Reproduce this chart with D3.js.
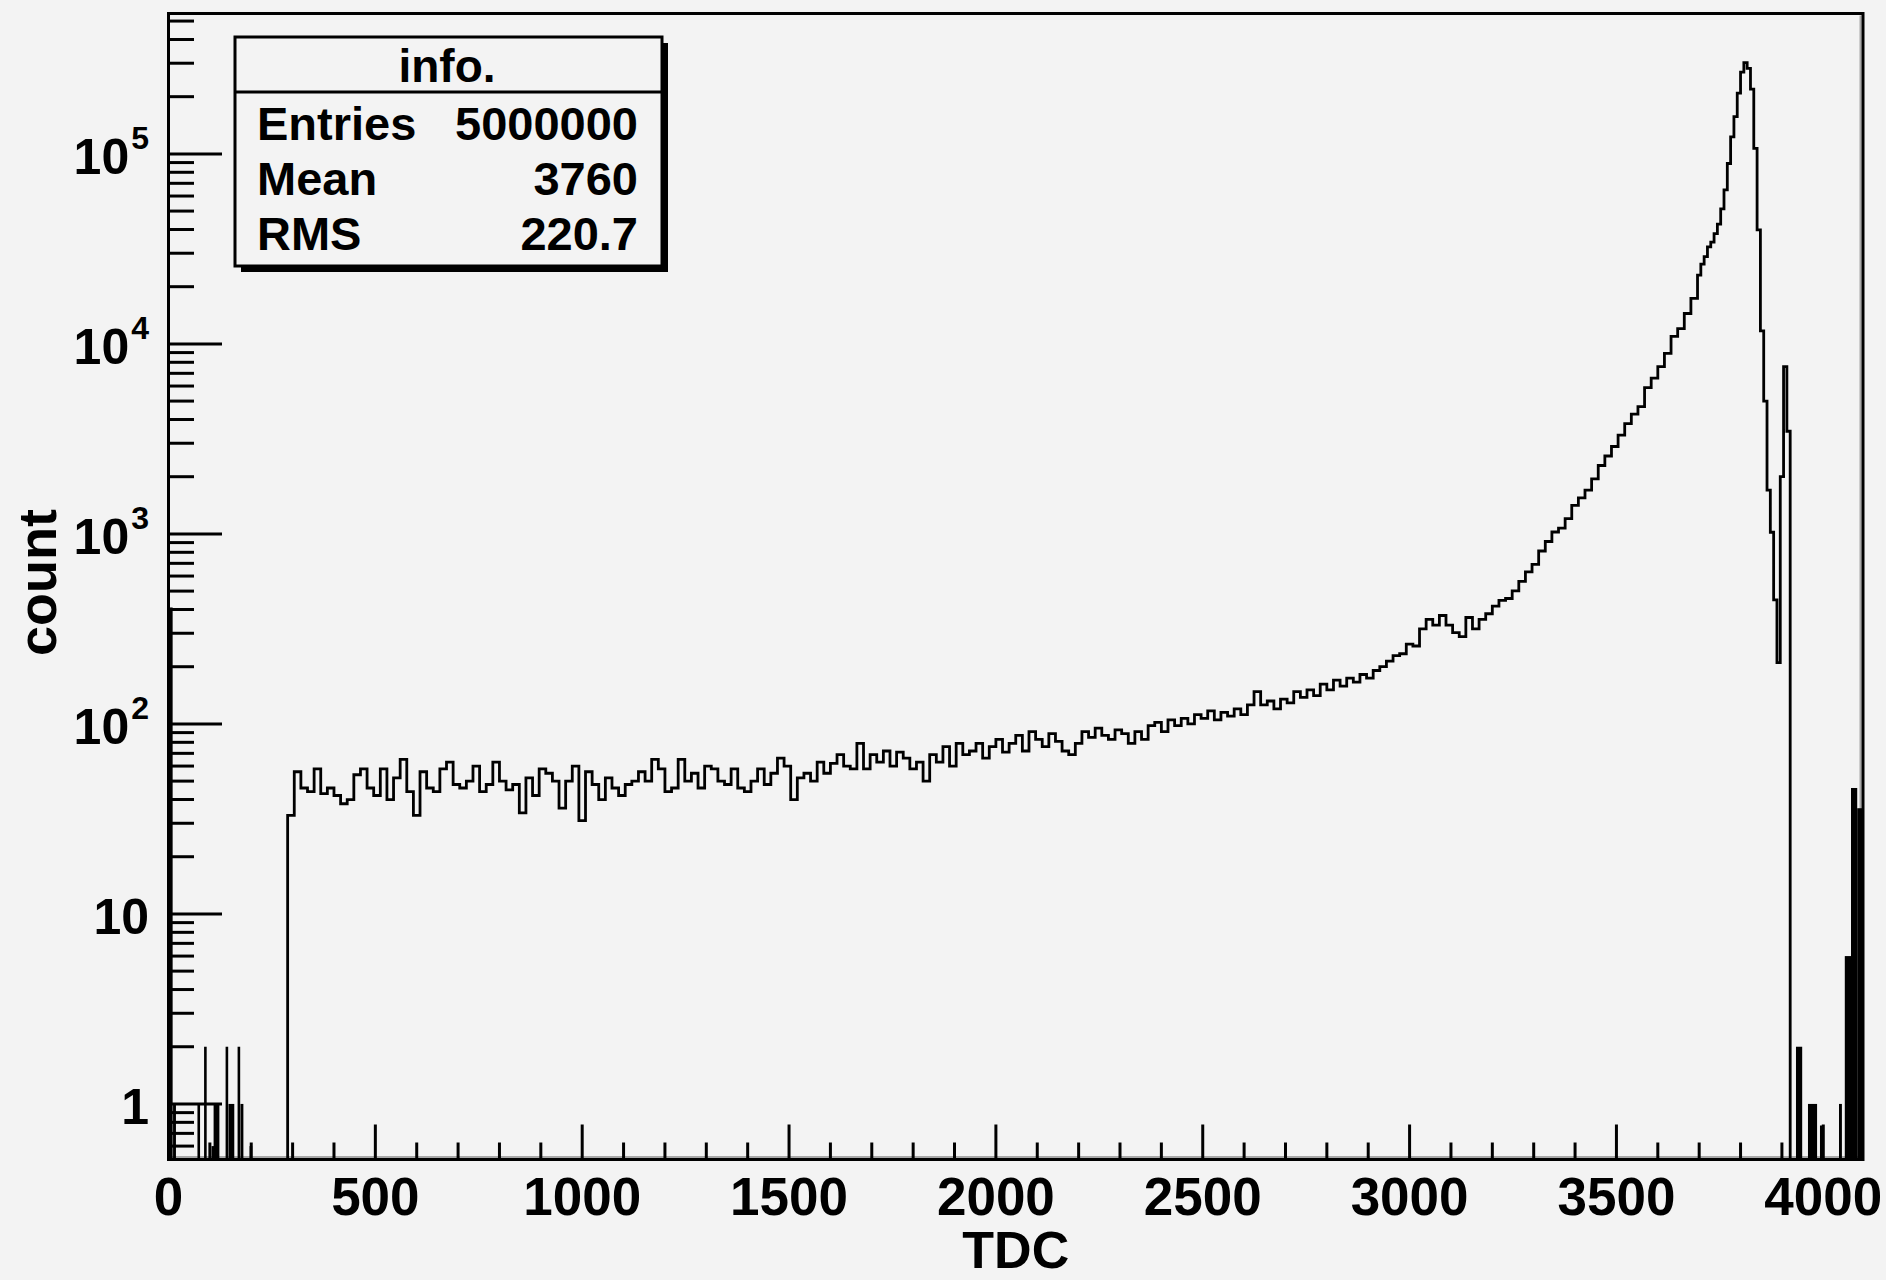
<!DOCTYPE html>
<html>
<head>
<meta charset="utf-8">
<script src="https://cdn.jsdelivr.net/npm/d3@7"></script>
<style>
	html, body { margin: 0; padding: 0; background: #f3f3f3; }
	svg { display: block; }
	text { font-family: "Liberation Sans", Arial, Helvetica, sans-serif; font-weight: bold; fill: #000; }
</style>
</head>
<body>
<svg id="chart"></svg>
<script>
const WIDTH = 1886;
const HEIGHT = 1280;

// histogram contents
// coarse bins: 16 channels wide, starting at channel 288
const coarseStart = 288;
const coarseWidth = 16;
const coarseCounts = [
	33, 56, 46, 44, 58, 43, 46, 42, 38, 40,
	54, 58, 46, 42, 58, 40, 52, 65, 44, 33,
	56, 46, 44, 58, 63, 48, 46, 50, 60, 44,
	48, 63, 50, 45, 48, 34, 52, 42, 58, 55,
	50, 36, 50, 60, 31, 56, 48, 40, 52, 46,
	42, 48, 50, 56, 50, 65, 58, 44, 46, 65,
	50, 55, 46, 60, 58, 50, 48, 58, 46, 44,
	50, 58, 48, 55, 66, 60, 40, 52, 55, 50,
	63, 55, 62, 69, 60, 58, 79, 58, 69, 63,
	72, 60, 71, 66, 58, 63, 50, 69, 63, 76,
	60, 79, 69, 72, 79, 66, 76, 83, 71, 79,
	87, 72, 91, 83, 76, 89, 81, 72, 69, 79,
	91, 85, 95, 87, 83, 93, 89, 79, 91, 83,
	98, 102, 91, 105, 98, 107, 100, 112, 107, 117,
	105, 115, 110, 120, 112, 126, 148, 126, 132, 120,
	135, 129, 148, 138, 151, 141, 162, 151, 170, 158,
	174, 166, 182, 174, 191, 200, 214, 229, 234, 263,
	257, 316, 355, 331, 372, 331, 302, 288, 363, 316,
	355, 380, 417, 447, 457, 501, 562, 631, 692, 813,
	912, 1023, 1072, 1202, 1413, 1549, 1698, 1950, 2291, 2570,
	2884, 3311, 3802, 4266, 4677, 5888, 6607, 7586, 8913, 10960,
	12020, 14450, 17380,
];

// peak bins: 8 channels wide, starting at channel 3696
const peakStart = 3696;
const peakWidth = 8;
const peakCounts = [
	23000, 26300, 28800, 32400, 34300, 38000, 42700, 51300, 64600, 89000,
	123000, 157000, 209000, 269000, 302000, 282000, 219000, 107000, 39800, 11700,
	5000, 1700, 1020, 450, 210, 2000, 7600, 3470,
];

// isolated low-count channels (drawn as thin / comb-filled bars)
const sparseLow = [0, 11, 70, 86, 104, 109, 138, 145, 167, 174, 196, 3934, 3963, 3992, 4038, 4052, 4067, 4082];
const sparseHigh = [10, 18, 75, 90, 108, 123, 142, 159, 171, 181, 200, 3949, 3985, 3999, 4045, 4067, 4082, 4096];
const sparseCounts = [410, 1, 1, 2, 0.6, 1, 2, 1, 2, 1, 0.6, 2, 1, 0.77, 1, 6, 46, 36];

const xTickMajor = [0, 500, 1000, 1500, 2000, 2500, 3000, 3500, 4000];
const yDecades = [1, 10, 100, 1000, 10000, 100000];

const statsTitle = "info.";
const statsNames = ["Entries", "Mean", "RMS"];
const statsValues = ["5000000", "3760", "220.7"];

const X_MIN = 0;
const X_MAX = 4096;
const Y_MIN = 0.51;
const Y_MAX = 5.48e5;

const frame = { left: 168.5, right: 1863, top: 13.5, bottom: 1159.5 };

const xScale = d3.scaleLinear([X_MIN, X_MAX], [frame.left, frame.right]);
const yScale = d3.scaleLog([Y_MIN, Y_MAX], [frame.bottom, frame.top]);

const svg = d3.select("#chart")
	.attr("width", WIDTH)
	.attr("height", HEIGHT);

svg.append("rect")
	.attr("width", WIDTH)
	.attr("height", HEIGHT)
	.attr("fill", "#f3f3f3");

// soft grey edge inside the frame (as in the original bitmap)
svg.append("line")
	.attr("x1", frame.left + 2).attr("x2", frame.right - 2)
	.attr("y1", frame.bottom - 2.5).attr("y2", frame.bottom - 2.5)
	.attr("stroke", "#a8a8a8").attr("stroke-width", 2);
svg.append("line")
	.attr("x1", frame.right - 2.5).attr("x2", frame.right - 2.5)
	.attr("y1", frame.top + 2).attr("y2", frame.bottom - 2)
	.attr("stroke", "#a8a8a8").attr("stroke-width", 2);

// bins
const bins = [];
coarseCounts.forEach((v, i) => {
	bins.push({ lo: coarseStart + i * coarseWidth, hi: coarseStart + (i + 1) * coarseWidth, v });
});
peakCounts.forEach((v, i) => {
	bins.push({ lo: peakStart + i * peakWidth, hi: peakStart + (i + 1) * peakWidth, v });
});

const yClamp = v => Math.min(frame.bottom, Math.max(frame.top, yScale(Math.max(v, Y_MIN))));

const stepPoints = [[xScale(bins[0].lo), frame.bottom]];
for (const b of bins) {
	stepPoints.push([xScale(b.lo), yClamp(b.v)]);
	stepPoints.push([xScale(b.hi), yClamp(b.v)]);
}
stepPoints.push([xScale(bins[bins.length - 1].hi), frame.bottom]);

svg.append("path")
	.attr("d", d3.line()(stepPoints))
	.attr("fill", "none")
	.attr("stroke", "#000")
	.attr("stroke-width", 2.8)
	.attr("stroke-linejoin", "miter");

const sparse = sparseLow.map((lo, i) => ({ lo, hi: sparseHigh[i], v: sparseCounts[i] }));
svg.append("g")
	.selectAll("rect")
	.data(sparse)
	.join("rect")
	.attr("x", d => xScale(d.lo))
	.attr("width", d => Math.max(xScale(d.hi) - xScale(d.lo), 2.6))
	.attr("y", d => yClamp(d.v))
	.attr("height", d => frame.bottom - yClamp(d.v))
	.attr("fill", "#000");

// frame
svg.append("rect")
	.attr("x", frame.left)
	.attr("y", frame.top)
	.attr("width", frame.right - frame.left)
	.attr("height", frame.bottom - frame.top)
	.attr("fill", "none")
	.attr("stroke", "#000")
	.attr("stroke-width", 3);

// x axis ticks
const xMinor = d3.range(0, X_MAX + 1, 100).filter(v => v % 500 !== 0);
const axes = svg.append("g").attr("stroke", "#000").attr("stroke-width", 3);
axes.selectAll(".xmaj")
	.data(xTickMajor)
	.join("line")
	.attr("x1", d => xScale(d)).attr("x2", d => xScale(d))
	.attr("y1", frame.bottom).attr("y2", frame.bottom - 35);
axes.selectAll(".xmin")
	.data(xMinor)
	.join("line")
	.attr("x1", d => xScale(d)).attr("x2", d => xScale(d))
	.attr("y1", frame.bottom).attr("y2", frame.bottom - 17);

// y axis ticks (log)
const yMinor = [];
for (const dec of [0.1, ...yDecades]) {
	for (let m = 2; m <= 9; m++) {
		const v = dec * m;
		if (v >= Y_MIN && v <= Y_MAX) yMinor.push(v);
	}
}
axes.selectAll(".ymaj")
	.data(yDecades)
	.join("line")
	.attr("x1", frame.left).attr("x2", 222)
	.attr("y1", d => yScale(d)).attr("y2", d => yScale(d));
axes.selectAll(".ymin")
	.data(yMinor)
	.join("line")
	.attr("x1", frame.left).attr("x2", 194)
	.attr("y1", d => yScale(d)).attr("y2", d => yScale(d));

// tick labels
svg.append("g")
	.selectAll("text")
	.data(xTickMajor)
	.join("text")
	.attr("x", d => xScale(d))
	.attr("y", 1215)
	.attr("text-anchor", "middle")
	.attr("font-size", 53)
	.text(d => d);

const yLabels = svg.append("g")
	.selectAll("text")
	.data(yDecades)
	.join("text")
	.attr("x", 149)
	.attr("y", d => yScale(d) + 20)
	.attr("text-anchor", "end")
	.attr("font-size", 50);
yLabels.each(function (d) {
	const t = d3.select(this);
	const exp = Math.round(Math.log10(d));
	if (exp <= 1) {
		t.text(d);
	} else {
		t.append("tspan").text("10");
		t.append("tspan").attr("dx", 2).attr("dy", -25).attr("font-size", 32).text(exp);
	}
});

// axis titles
svg.append("text")
	.attr("x", (frame.left + frame.right) / 2)
	.attr("y", 1268)
	.attr("text-anchor", "middle")
	.attr("font-size", 52)
	.text("TDC");

svg.append("text")
	.attr("transform", `translate(56, ${(frame.top + frame.bottom) / 2 - 4}) rotate(-90)`)
	.attr("text-anchor", "middle")
	.attr("font-size", 54)
	.text("count");

// stats box
const box = { x: 235, y: 37, w: 427, h: 229 };
const stats = svg.append("g");
stats.append("rect")
	.attr("x", box.x + 6).attr("y", box.y + 6)
	.attr("width", box.w).attr("height", box.h)
	.attr("fill", "#000");
stats.append("rect")
	.attr("x", box.x).attr("y", box.y)
	.attr("width", box.w).attr("height", box.h)
	.attr("fill", "#f3f3f3")
	.attr("stroke", "#000")
	.attr("stroke-width", 3);
stats.append("line")
	.attr("x1", box.x).attr("x2", box.x + box.w)
	.attr("y1", 92).attr("y2", 92)
	.attr("stroke", "#000").attr("stroke-width", 3);
stats.append("text")
	.attr("x", 447)
	.attr("y", 82)
	.attr("text-anchor", "middle")
	.attr("font-size", 46)
	.text(statsTitle);

const rowY = [140, 195, 250];
stats.selectAll(".sname")
	.data(statsNames)
	.join("text")
	.attr("x", 257)
	.attr("y", (d, i) => rowY[i])
	.attr("font-size", 47)
	.text(d => d);
stats.selectAll(".sval")
	.data(statsValues)
	.join("text")
	.attr("x", 638)
	.attr("y", (d, i) => rowY[i])
	.attr("text-anchor", "end")
	.attr("font-size", 47)
	.text(d => d);
</script>
</body>
</html>
